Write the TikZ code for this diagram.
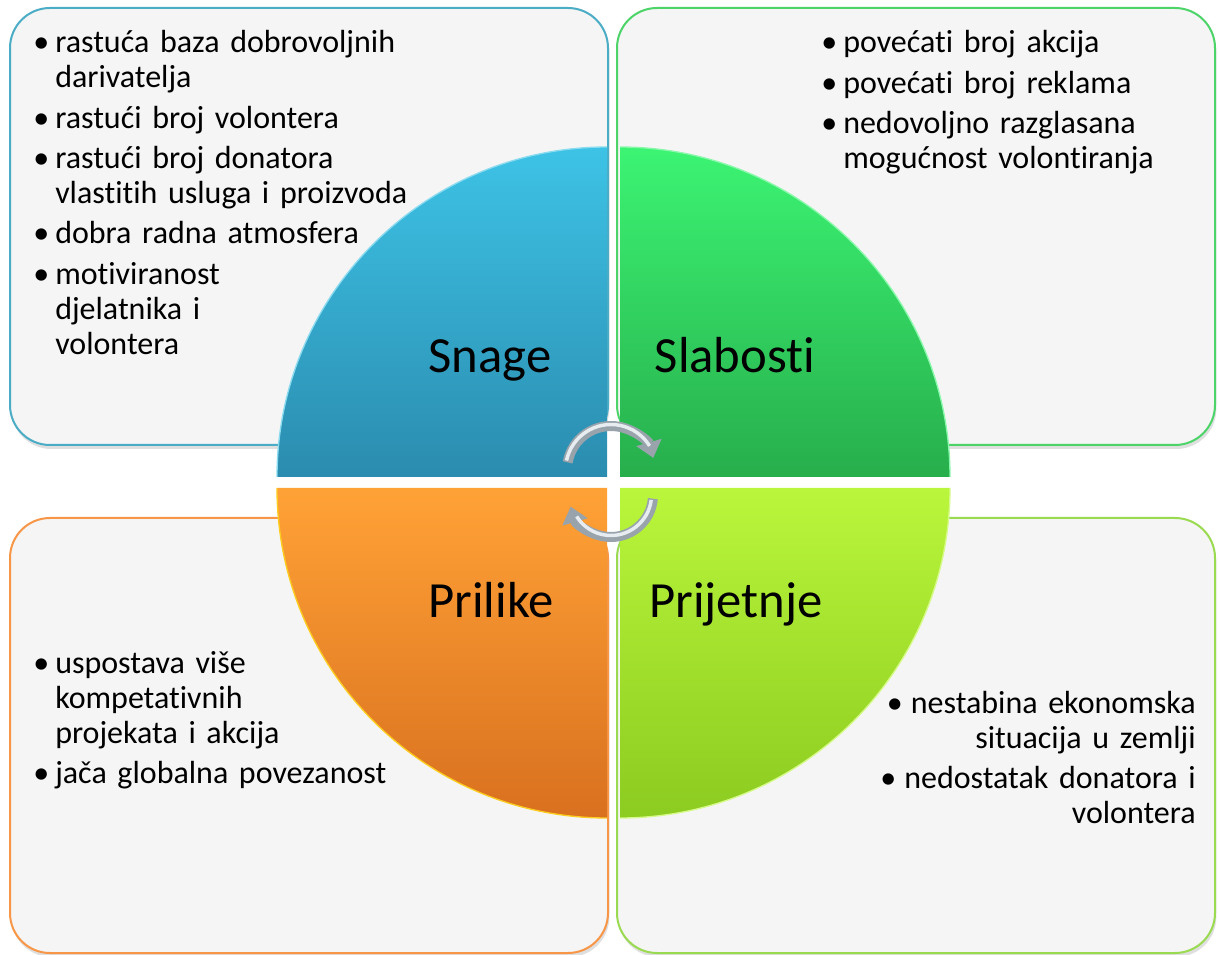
\documentclass[tikz,border=0pt]{standalone}
\usepackage{fontspec}
\setmainfont{Carlito}[Ligatures=CommonOff,WordSpace=0.8]
\usetikzlibrary{arrows.meta,shadows}
\definecolor{bluebd}{HTML}{4BACC6}
\definecolor{greenbd}{HTML}{4CD468}
\definecolor{orangebd}{HTML}{F79646}
\definecolor{limebd}{HTML}{9ADA50}
\definecolor{boxfill}{HTML}{F5F5F5}
\definecolor{bluetop}{HTML}{3DC3E6}
\definecolor{bluebot}{HTML}{2B8CAF}
\definecolor{greentop}{HTML}{3CF473}
\definecolor{greenbot}{HTML}{27AE4C}
\definecolor{orangetop}{HTML}{FFA236}
\definecolor{orangebot}{HTML}{D9701F}
\definecolor{limetop}{HTML}{BAF63B}
\definecolor{limebot}{HTML}{8CCB20}
\definecolor{arrowdark}{HTML}{98A3AC}
\definecolor{arrowlight}{HTML}{E6ECF0}
\newcommand{\bul}{\makebox[16.5pt][l]{•}}
\newcommand{\ind}{\hspace*{16.5pt}}
\begin{document}
\begin{tikzpicture}[x=0.75pt,y=0.75pt,
  swotbox/.style={rectangle, rounded corners=30pt, line width=1.5pt, fill=boxfill,
    drop shadow={shadow xshift=1pt, shadow yshift=-3pt, opacity=0.25}},
  bodytext/.style={inner sep=0pt, anchor=base west, text width=320pt, align=left,
    font=\fontsize{24}{26.25}\selectfont},
  quadtitle/.style={inner sep=0pt, anchor=base, font=\fontsize{38}{40}\selectfont},
  arrowbody/.style={line width=7.5pt, draw=arrowdark},
  arrowshine/.style={line width=2.6pt, draw=arrowlight}]
\useasboundingbox (0,0) rectangle (1218,-955);
% boxes
\node[swotbox, draw=bluebd,   minimum width=448.5pt, minimum height=327.75pt] (sbox) at (309,-226.5) {};
\node[swotbox, draw=greenbd,  minimum width=448.5pt, minimum height=327.75pt] (wbox) at (916,-226.5) {};
\node[swotbox, draw=orangebd, minimum width=448.5pt, minimum height=326.25pt] (obox) at (309,-735.5) {};
\node[swotbox, draw=limebd,   minimum width=448.5pt, minimum height=326.25pt] (tbox) at (916,-735.5) {};
% quadrants
\shade[top color=bluetop, bottom color=bluebot] (607,-477) -- (277,-477) arc[start angle=180,end angle=90,radius=330] -- cycle;
\draw[line width=1pt, white!40!bluetop] (277,-477) arc[start angle=180,end angle=90,radius=330];
\shade[top color=greentop, bottom color=greenbot] (620,-477) -- (620,-147) arc[start angle=90,end angle=0,radius=330] -- cycle;
\draw[line width=1pt, white!40!greentop] (620,-147) arc[start angle=90,end angle=0,radius=330];
\shade[top color=orangetop, bottom color=orangebot] (607,-488) -- (277,-488) arc[start angle=180,end angle=270,radius=330] -- cycle;
\draw[line width=1pt, yellow!50!orangetop] (277,-488) arc[start angle=180,end angle=270,radius=330];
\shade[top color=limetop, bottom color=limebot] (620,-488) -- (950,-488) arc[start angle=0,end angle=-90,radius=330] -- cycle;
\draw[line width=1pt, white!40!limetop] (950,-488) arc[start angle=0,end angle=-90,radius=330];
% titles
\node[quadtitle] (snage) at (490,-373) {Snage};
\node[quadtitle] (slabosti) at (735,-373) {Slabosti};
\node[quadtitle] (prilike) at (491,-617) {Prilike};
\node[quadtitle] (prijetnje) at (736,-617) {Prijetnje};
% circular arrows
\coordinate (ca) at (611,-470);
\coordinate (cb) at (611,-495);
\draw[arrowbody, -{Triangle[width=19pt,length=12pt]}] ([shift={(170:44)}]ca) arc[start angle=170,end angle=16,radius=44];
\draw[arrowshine] ([shift={(168:45.5)}]ca) arc[start angle=168,end angle=32,radius=45.5];
\draw[arrowbody, -{Triangle[width=19pt,length=12pt]}] ([shift={(-5:42)}]cb) arc[start angle=-5,end angle=-164,radius=42];
\draw[arrowshine] ([shift={(-7:40.5)}]cb) arc[start angle=-7,end angle=-148,radius=40.5];
% texts
\node[bodytext] (stext) at (33,-53) {%
\bul rastuća baza dobrovoljnih\\\ind darivatelja\\[4pt]
\bul rastući broj volontera\\[4pt]
\bul rastući broj donatora\\\ind vlastitih usluga i proizvoda\\[4pt]
\bul dobra radna atmosfera\\[4pt]
\bul motiviranost\\\ind djelatnika i\\\ind volontera};
\node[bodytext] (wtext) at (821,-53) {%
\bul povećati broj akcija\\[4pt]
\bul povećati broj reklama\\[4pt]
\bul nedovoljno razglasana\\\ind mogućnost volontiranja};
\node[bodytext] (otext) at (33,-673) {%
\bul uspostava više\\\ind kompetativnih\\\ind projekata i akcija\\[4pt]
\bul jača globalna povezanost};
\node[inner sep=0pt, anchor=base east, text width=320pt, align=right,
  font=\fontsize{24}{26.25}\selectfont] (ttext) at (1196,-713)
  {•\hspace{6pt}nestabina ekonomska\\situacija u zemlji\\[4pt]•\hspace{6pt}nedostatak donatora i\\volontera};
\end{tikzpicture}
\end{document}
